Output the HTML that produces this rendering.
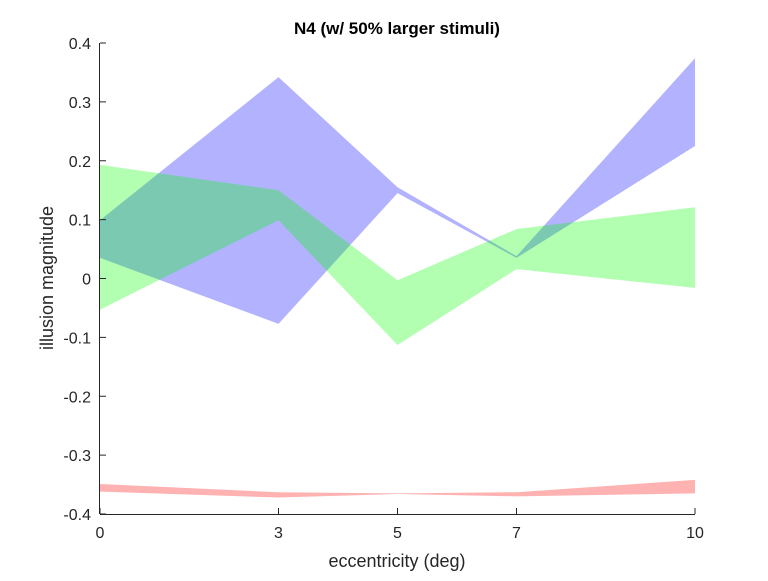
<!DOCTYPE html>
<html><head><meta charset="utf-8"><style>
body{margin:0;background:#fff;}
svg text{font-family:"Liberation Sans",sans-serif;fill:#262626;}
</style></head><body>
<svg id="chart" width="768" height="576">
<rect width="768" height="576" fill="#fff"/>
<g id="bands"></g>
<g id="axes"></g>
<text x="397" y="34" text-anchor="middle" font-size="17" font-weight="bold" style="fill:#000">N4 (w/ 50% larger stimuli)</text>
<text x="397" y="567" text-anchor="middle" font-size="18">eccentricity (deg)</text>
<text transform="translate(53,278) rotate(-90)" text-anchor="middle" font-size="18">illusion magnitude</text>
</svg>
<script>
const xVals=[0,3,5,7,10];
const xTicks=[0,3,5,7,10];
const yTicks=[-0.4,-0.3,-0.2,-0.1,0,0.1,0.2,0.3,0.4];
const blueUpper=[0.099,0.342,0.155,0.038,0.374];
const blueLower=[0.035,-0.077,0.145,0.035,0.225];
const greenUpper=[0.193,0.150,-0.003,0.084,0.121];
const greenLower=[-0.053,0.099,-0.113,0.016,-0.016];
const redUpper=[-0.349,-0.363,-0.365,-0.363,-0.342];
const redLower=[-0.362,-0.372,-0.366,-0.370,-0.365];
const X0=100,X1=695,Y0=514,Y1=43;
const sx=v=>X0+(v-0)/(10-0)*(X1-X0);
const sy=v=>Y0-(v+0.4)/0.8*(Y0-Y1);
const NS='http://www.w3.org/2000/svg';
const bands=document.getElementById('bands'),axes=document.getElementById('axes');
function band(up,lo,color,name){
  const pts=[];
  xVals.forEach((x,i)=>pts.push(sx(x)+','+sy(up[i])));
  for(let i=xVals.length-1;i>=0;i--)pts.push(sx(xVals[i])+','+sy(lo[i]));
  const p=document.createElementNS(NS,'polygon');
  p.setAttribute('points',pts.join(' '));
  p.setAttribute('fill',color);p.setAttribute('fill-opacity','0.3');
  
  
  bands.appendChild(p);
}
band(blueUpper,blueLower,'#0000ff','blue-band');
band(greenUpper,greenLower,'#00ff00','green-band');
band(redUpper,redLower,'#ff0000','red-band');
function line(x1,y1,x2,y2){const l=document.createElementNS(NS,'line');l.setAttribute('x1',x1);l.setAttribute('y1',y1);l.setAttribute('x2',x2);l.setAttribute('y2',y2);l.setAttribute('stroke','#262626');l.setAttribute('stroke-width','1');axes.appendChild(l);return l;}
const xa=line(X0,Y0+0.5,X1,Y0+0.5);


const ya=line(X0-0.5,Y1,X0-0.5,Y0);


xTicks.forEach(t=>{
  line(sx(t),Y0,sx(t),Y0-6);
  const tx=document.createElementNS(NS,'text');
  tx.setAttribute('x',sx(t));tx.setAttribute('y',Y0+24);tx.setAttribute('text-anchor','middle');tx.setAttribute('font-size','16');
  tx.textContent=t;
  
  
  axes.appendChild(tx);
});
yTicks.forEach(t=>{
  line(X0,sy(t),X0+6,sy(t));
  const tx=document.createElementNS(NS,'text');
  tx.setAttribute('x',X0-9);tx.setAttribute('y',sy(t)+6);tx.setAttribute('text-anchor','end');tx.setAttribute('font-size','16');
  tx.textContent=Math.abs(t)<1e-9?'0':String(t);
  
  
  axes.appendChild(tx);
});
</script>
</body></html>
